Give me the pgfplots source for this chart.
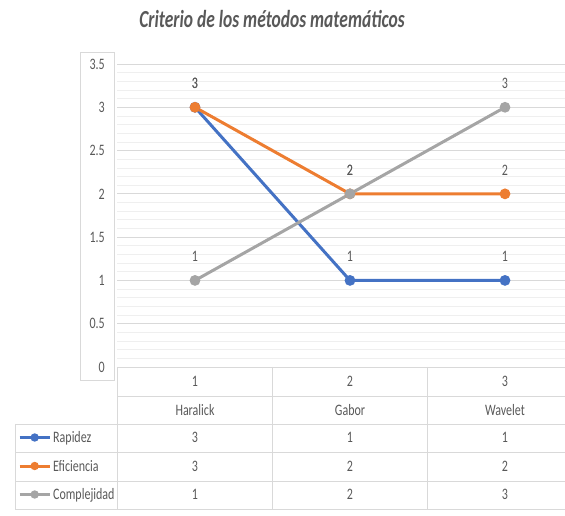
\documentclass[border=0pt]{standalone}
\usepackage{graphicx}
\usepackage{pgfplots}
\pgfplotsset{compat=1.18}
\usepackage{fontspec}
\setmainfont{Carlito}
\definecolor{cblue}{HTML}{4472C4}
\definecolor{corange}{HTML}{ED7D31}
\definecolor{cgray}{HTML}{A5A5A5}
\definecolor{gridc}{HTML}{D9D9D9}
\definecolor{minc}{HTML}{EFEFEF}
\definecolor{txt}{HTML}{595959}
\newcommand\vs[1]{\scalebox{1}[1.33]{#1}}
\newcommand\vsl[1]{\raisebox{-1.4pt}{\scalebox{1}[1.33]{#1}}}
\begin{document}
\begin{tikzpicture}[x=1pt,y=1pt]
\useasboundingbox (-117.5,-149) rectangle (447.5,367);
\begin{axis}[
  at={(0,0)}, anchor=south west,
  scale only axis, width=447.5pt, height=303pt,
  xmin=0.5, xmax=3.3871, ymin=0, ymax=3.5,
  clip=false,
  axis line style={draw=none},
  tick style={draw=none},
  xtick=\empty,
  ytick={0,0.5,1,1.5,2,2.5,3,3.5},
  minor y tick num=4,
  ymajorgrids, yminorgrids,
  major grid style={color=gridc, line width=0.9pt},
  minor grid style={color=minc, line width=0.7pt},
  /pgf/number format/assume math mode=true,
  yticklabel={\vs{\pgfmathprintnumber{\tick}}},
  yticklabel style={font=\fontsize{12}{14}\selectfont, text=txt, anchor=east, inner sep=0pt, xshift=-12.5pt},
  title={\scalebox{1}[1.4]{\bfseries\itshape Criterio de los métodos matemáticos}},
  title style={at={(axis cs:1.497,3.95)}, anchor=center, font=\fontsize{17.5}{20}\selectfont, text=txt},
  nodes near coords={\vs{\pgfmathprintnumber{\pgfplotspointmeta}}},
  every node near coord/.append style={anchor=center, yshift=24pt, font=\fontsize{12}{14}\selectfont, text=txt},
  legend image code/.code={\draw[mark repeat=2,mark phase=2,#1,mark size=2.6pt] plot coordinates {(0pt,0pt)(15pt,0pt)(30pt,0pt)};},
  legend style={draw=none, fill=none, at={(axis cs:-0.142,-1.1436)}, anchor=west,
    inner sep=0pt, row sep=12.5pt, column sep=2pt,
    nodes={inner sep=0pt, text height=12pt, text depth=4pt, font=\fontsize{12}{14}\selectfont, text=txt}},
  legend cell align=left,
]
% table frame
\draw[gridc, line width=0.9pt] (axis cs:0.5,0) -- (axis cs:3.5,0);
\draw[gridc, line width=0.9pt] (axis cs:0.5,-0.335) -- (axis cs:3.5,-0.335);
\draw[gridc, line width=0.9pt] (axis cs:-0.161,-0.6584) -- (axis cs:3.5,-0.6584);
\draw[gridc, line width=0.9pt] (axis cs:-0.161,-0.9818) -- (axis cs:3.5,-0.9818);
\draw[gridc, line width=0.9pt] (axis cs:-0.161,-1.3168) -- (axis cs:3.5,-1.3168);
\draw[gridc, line width=0.9pt] (axis cs:-0.161,-1.6403) -- (axis cs:3.5,-1.6403);
\draw[gridc, line width=0.9pt] (axis cs:-0.161,-0.6584) -- (axis cs:-0.161,-1.6403);
\draw[gridc, line width=0.9pt] (axis cs:0.5,0) -- (axis cs:0.5,-1.6403);
\draw[gridc, line width=0.9pt] (axis cs:1.5,0) -- (axis cs:1.5,-1.6403);
\draw[gridc, line width=0.9pt] (axis cs:2.5,0) -- (axis cs:2.5,-1.6403);
\draw[gridc, line width=0.9pt] (axis cs:3.5,0) -- (axis cs:3.5,-1.6403);
% y label box
\draw[gridc, line width=0.8pt] (axis cs:0.258,-0.150) rectangle (axis cs:0.478,3.637);
% table text
\begin{scope}[every node/.style={font=\fontsize{12}{14}\selectfont, text=txt}]
\node at (axis cs:1,-0.1617) {\vs{1}};
\node at (axis cs:2,-0.1617) {\vs{2}};
\node at (axis cs:3,-0.1617) {\vs{3}};
\node at (axis cs:1,-0.4967) {\vs{Haralick}};
\node at (axis cs:2,-0.4967) {\vs{Gabor}};
\node at (axis cs:3,-0.4967) {\vs{Wavelet}};
\node at (axis cs:1,-0.8086) {\vs{3}};
\node at (axis cs:2,-0.8086) {\vs{1}};
\node at (axis cs:3,-0.8086) {\vs{1}};
\node at (axis cs:1,-1.1436) {\vs{3}};
\node at (axis cs:2,-1.1436) {\vs{2}};
\node at (axis cs:3,-1.1436) {\vs{2}};
\node at (axis cs:1,-1.4670) {\vs{1}};
\node at (axis cs:2,-1.4670) {\vs{2}};
\node at (axis cs:3,-1.4670) {\vs{3}};
\end{scope}
\addplot[cblue, line width=3pt, mark=*, mark size=3.8pt] coordinates {(1,3) (2,1) (3,1)};
\addlegendentry{\vsl{Rapidez}}
\addplot[corange, line width=3pt, mark=*, mark size=3.8pt] coordinates {(1,3) (2,2) (3,2)};
\addlegendentry{\vsl{Eficiencia}}
\addplot[cgray, line width=3pt, mark=*, mark size=3.8pt] coordinates {(1,1) (2,2) (3,3)};
\addlegendentry{\vsl{Complejidad}}
\end{axis}
\end{tikzpicture}
\end{document}
